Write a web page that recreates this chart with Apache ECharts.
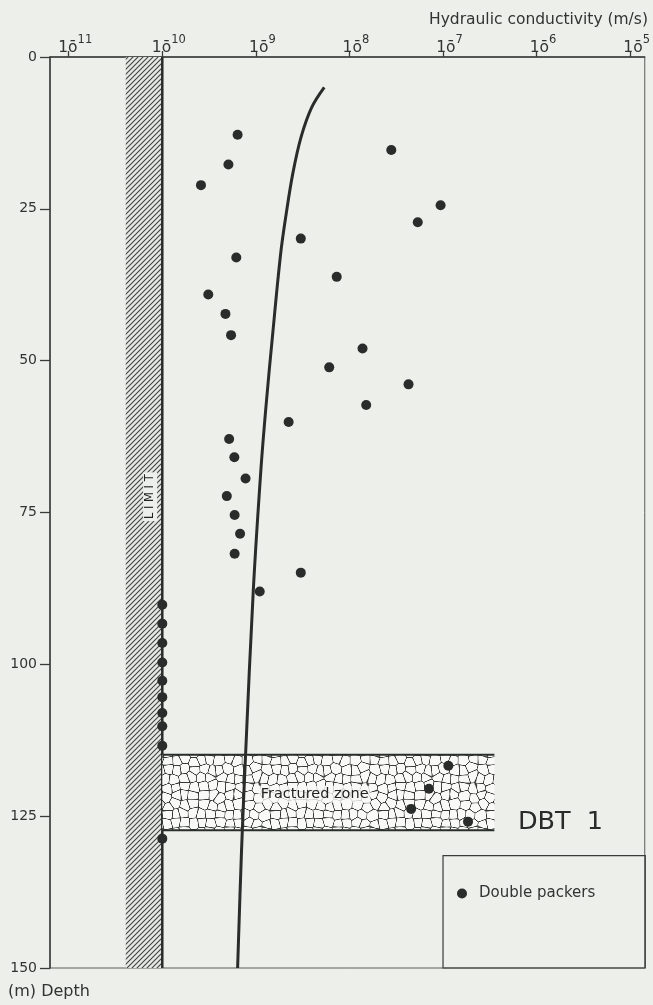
<!DOCTYPE html>
<html><head><meta charset="utf-8">
<script src="https://cdn.jsdelivr.net/npm/echarts@6/dist/echarts.min.js"></script>
<style>html,body{margin:0;padding:0;background:#edefea;}#c{width:653px;height:1005px;}</style>
</head><body><div id="c"></div>
<script>
// ---- data ----
const tickExponents = [-11, -10, -9, -8, -7, -6, -5];
const depthTicks = [0, 25, 50, 75, 100, 125, 150];
// double packer measurements: depth (m) and hydraulic conductivity (m/s)
const packerDepth = [12.8, 17.7, 21.1, 15.3, 24.4, 27.2, 29.9, 33.0, 36.2, 39.1,
  42.3, 45.8, 48.0, 51.1, 53.9, 57.3, 60.1, 62.9, 65.9, 69.4,
  72.3, 75.4, 78.5, 81.8, 84.9, 88.0,
  90.2, 93.3, 96.5, 99.7, 102.7, 105.4, 108.0, 110.2, 113.4,
  128.7,
  116.7, 120.5, 123.8, 125.9];
const packerK = [6.38e-10, 5.09e-10, 2.59e-10, 2.80e-8, 9.42e-8, 5.37e-8, 3.02e-9, 6.18e-10, 7.31e-9, 3.10e-10,
  4.73e-10, 5.43e-10, 1.38e-8, 6.08e-9, 4.28e-8, 1.51e-8, 2.24e-9, 5.18e-10, 5.89e-10, 7.76e-10,
  4.89e-10, 5.93e-10, 6.78e-10, 5.93e-10, 3.02e-9, 1.10e-9,
  1e-10, 1e-10, 1e-10, 1e-10, 1e-10, 1e-10, 1e-10, 1e-10, 1e-10,
  1e-10,
  1.14e-7, 7.08e-8, 4.56e-8, 1.85e-7];
// trend curve
const curveDepth = [5.0, 8.3, 13.2, 19.2, 25.8, 32.4, 46.2, 57.1, 68.1, 87.9, 114.9, 130.6, 150];
const curveK = [5.38e-9, 3.95e-9, 3.04e-9, 2.48e-9, 2.11e-9, 1.84e-9, 1.50e-9, 1.29e-9, 1.13e-9, 9.38e-10, 7.76e-10, 7.03e-10, 6.38e-10];
// measurement limit band (m/s)
const limitK = [4.07e-11, 1e-10];
// fractured zone
const fracturedDepth = [114.9, 127.3];
const fracturedK = [1e-10, 3.54e-7];
// legend box extent
const legendBoxK = [1.0e-7, 1.45e-5];
const legendBoxDepth = [131.5, 150];

const lg = v => Math.log10(v);
const FONT = '"DejaVu Sans", sans-serif';
const INK = '#2a2c2b';
const PAPER = '#edefea';

function makeHatch() {
  const s = 5, c = document.createElement('canvas');
  c.width = s; c.height = s;
  const ctx = c.getContext('2d');
  ctx.fillStyle = '#e6e8e3'; ctx.fillRect(0, 0, s, s);
  ctx.strokeStyle = '#444645'; ctx.lineWidth = 1.15;
  ctx.beginPath();
  ctx.moveTo(-1, s + 1); ctx.lineTo(s + 1, -1);
  ctx.moveTo(-1, 1); ctx.lineTo(1, -1);
  ctx.moveTo(s - 1, s + 1); ctx.lineTo(s + 1, s - 1);
  ctx.stroke();
  return c;
}
function makeCells() {
  const W = 108, H = 72, nx = 12, ny = 8, cw = W / nx, ch = H / ny;
  let seed = 12345;
  const rnd = () => { seed = (seed * 16807) % 2147483647; return seed / 2147483647; };
  const pts = [];
  for (let j = 0; j < ny; j++) for (let i = 0; i < nx; i++)
    pts.push([(i + 0.2 + 0.6 * rnd()) * cw, (j + 0.2 + 0.6 * rnd()) * ch]);
  const c = document.createElement('canvas'); c.width = W; c.height = H;
  const ctx = c.getContext('2d'); const img = ctx.createImageData(W, H);
  const bg = [249, 249, 247], fg = [55, 57, 56];
  for (let y = 0; y < H; y++) for (let x = 0; x < W; x++) {
    let d1 = 1e9, d2 = 1e9;
    for (const p of pts) {
      let dx = Math.abs(x + 0.5 - p[0]); if (dx > W / 2) dx = W - dx;
      let dy = Math.abs(y + 0.5 - p[1]); if (dy > H / 2) dy = H - dy;
      const d = Math.sqrt(dx * dx + dy * dy);
      if (d < d1) { d2 = d1; d1 = d; } else if (d < d2) d2 = d;
    }
    const a = Math.max(0, Math.min(1, 1.25 - (d2 - d1)));
    const k = (y * W + x) * 4;
    for (let q = 0; q < 3; q++) img.data[k + q] = bg[q] + (fg[q] - bg[q]) * a;
    img.data[k + 3] = 255;
  }
  ctx.putImageData(img, 0, 0);
  return c;
}
const hatch = makeHatch();
const cells = makeCells();

const chart = echarts.init(document.getElementById('c'), null, {renderer: 'canvas'});
const option = {
  animation: false,
  backgroundColor: PAPER,
  grid: {left: 50, right: 4, top: 57, bottom: 37, show: true, borderColor: '#5a5c5b', borderWidth: 1, backgroundColor: 'transparent'},
  xAxis: {
    type: 'value', position: 'top', min: -11.2, max: -4.844,
    splitLine: {show: false},
    axisLine: {show: true, lineStyle: {color: '#3a3c3b', width: 1.5}},
    axisTick: {show: true, inside: false, length: 6, customValues: tickExponents, lineStyle: {color: '#3a3c3b', width: 1.3}},
    axisLabel: {
      show: true, customValues: tickExponents, margin: 1, color: '#333',
      formatter: v => '{sp| }{b|1\u014D}{s|' + Math.abs(Math.round(v)) + '}',
      rich: {
        sp: {width: 13, height: 22, fontSize: 1},
        b: {fontSize: 15.5, fontFamily: FONT, lineHeight: 16, verticalAlign: 'bottom', color: '#333'},
        s: {fontSize: 11.5, fontFamily: FONT, lineHeight: 12, verticalAlign: 'top', color: '#333'}
      }
    }
  },
  yAxis: {
    type: 'value', inverse: true, min: 0, max: 150, interval: 25,
    splitLine: {show: false},
    axisLine: {show: true, lineStyle: {color: '#3a3c3b', width: 1.5}},
    axisTick: {show: true, inside: false, length: 10, lineStyle: {color: '#3a3c3b', width: 1.3}},
    axisLabel: {margin: 13, color: '#333', fontSize: 14, fontFamily: FONT,
      formatter: v => depthTicks.indexOf(v) >= 0 ? String(v) : ''}
  },
  legend: {
    data: ['Double packers'], left: 457, top: 886, icon: 'circle',
    itemWidth: 24, itemHeight: 10, itemGap: 0, padding: 0,
    itemStyle: {opacity: 1},
    textStyle: {fontSize: 15, fontFamily: FONT, color: '#333'}
  },
  graphic: [
    {type: 'text', left: 429, top: 12, style: {text: 'Hydraulic conductivity (m/s)', fontSize: 15.5, fontFamily: FONT, fill: '#333'}},
    {type: 'text', left: 8, top: 984, style: {text: '(m) Depth', fontSize: 16, fontFamily: FONT, fill: '#333'}}
  ],
  series: [
    { // limit band
      type: 'custom', silent: true, z: 1, clip: false,
      data: [[lg(limitK[1]), 0]],
      renderItem: (params, api) => {
        const p0 = api.coord([lg(limitK[0]), 0]);
        const p1 = api.coord([lg(limitK[1]), 150]);
        const tp = api.coord([-10.13, 72.4]);
        return {type: 'group', children: [
          {type: 'rect', shape: {x: p0[0], y: p0[1], width: p1[0] - p0[0], height: p1[1] - p0[1]},
           style: {fill: {image: hatch, repeat: 'repeat'}}},
          {type: 'line', shape: {x1: p1[0], y1: p0[1], x2: p1[0], y2: p1[1]}, style: {stroke: INK, lineWidth: 2.5}},
          {type: 'text', x: tp[0], y: tp[1], rotation: Math.PI / 2,
           style: {text: 'L I M I T', fontSize: 11.5, fontFamily: FONT, fill: '#222', align: 'center', verticalAlign: 'middle',
                   backgroundColor: PAPER, padding: [1, 2]}}
        ]};
      }
    },
    { // fractured zone
      type: 'custom', silent: true, z: 2, clip: false,
      data: [[lg(fracturedK[0]), fracturedDepth[0]]],
      renderItem: (params, api) => {
        const p0 = api.coord([lg(fracturedK[0]), fracturedDepth[0]]);
        const p1 = api.coord([lg(fracturedK[1]), fracturedDepth[1]]);
        const tp = api.coord([-8.372, 121.4]);
        return {type: 'group', children: [
          {type: 'rect', shape: {x: p0[0], y: p0[1], width: p1[0] - p0[0], height: p1[1] - p0[1]},
           style: {fill: {image: cells, repeat: 'repeat'}}},
          {type: 'line', shape: {x1: p0[0], y1: p0[1], x2: p1[0], y2: p0[1]}, style: {stroke: INK, lineWidth: 2}},
          {type: 'line', shape: {x1: p0[0], y1: p1[1], x2: p1[0], y2: p1[1]}, style: {stroke: INK, lineWidth: 2}},
          {type: 'text', x: tp[0], y: tp[1], z2: 10,
           style: {text: 'Fractured zone', fontSize: 14.5, fontFamily: FONT, fill: '#222', align: 'center', verticalAlign: 'middle',
                   backgroundColor: 'rgba(249,249,247,0.8)', padding: [1, 2]}}
        ]};
      }
    },
    { // trend curve
      type: 'line', z: 3, name: 'trend', symbol: 'none', smooth: 0.35, silent: true,
      data: curveDepth.map((d, i) => [lg(curveK[i]), d]),
      lineStyle: {color: INK, width: 3}
    },
    { // measurements
      type: 'scatter', z: 4, name: 'Double packers', symbol: 'circle', symbolSize: 10,
      data: packerDepth.map((d, i) => [lg(packerK[i]), d]),
      itemStyle: {color: INK, opacity: 1}
    },
    { // legend box and DBT label
      type: 'custom', silent: true, z: 5, clip: false,
      data: [[lg(legendBoxK[0]), legendBoxDepth[0]]],
      renderItem: (params, api) => {
        const p0 = api.coord([lg(legendBoxK[0]), legendBoxDepth[0]]);
        const p1 = api.coord([lg(legendBoxK[1]), legendBoxDepth[1]]);
        const tp = api.coord([-6.20, 126.0]);
        return {type: 'group', children: [
          {type: 'rect', shape: {x: p0[0], y: p0[1], width: p1[0] - p0[0], height: p1[1] - p0[1]},
           style: {fill: 'none', stroke: '#3a3c3b', lineWidth: 1.2}},
          {type: 'text', x: tp[0], y: tp[1],
           style: {text: 'DBT  1', fontSize: 25.5, fontFamily: FONT, fill: '#2a2a2a', align: 'left', verticalAlign: 'middle'}}
        ]};
      }
    }
  ]
};
chart.setOption(option);
</script></body></html>
